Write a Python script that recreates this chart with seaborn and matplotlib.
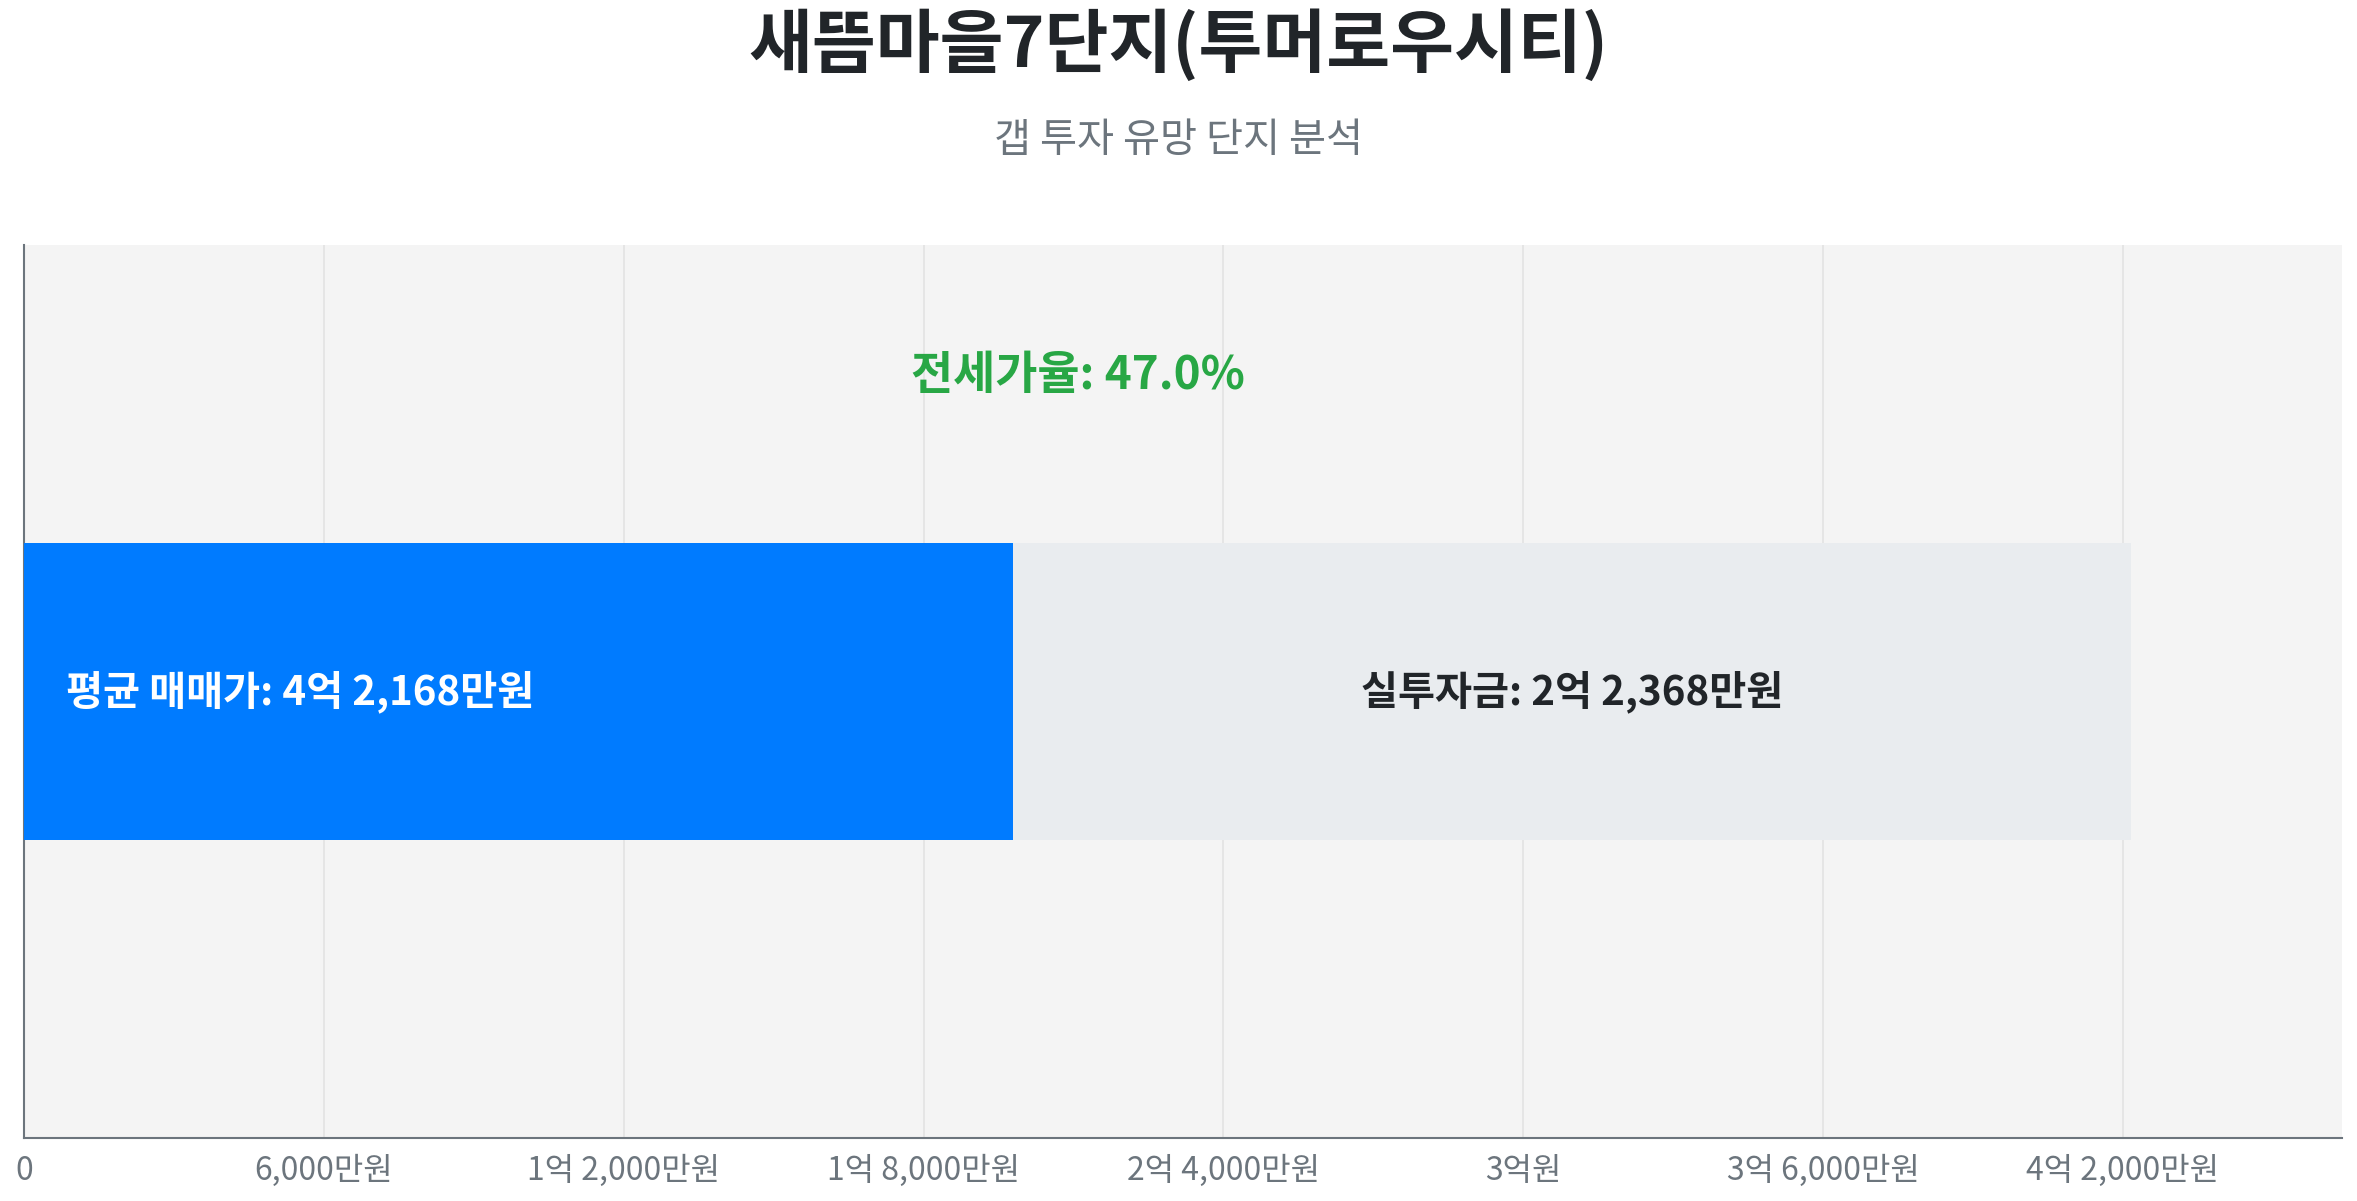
import matplotlib
matplotlib.use("Agg")
import matplotlib.pyplot as plt
import pandas as pd
import seaborn as sns
from matplotlib.ticker import FuncFormatter, MultipleLocator

# values in 만원
complex_name = "새뜸마을7단지(투머로우시티)"
subtitle = "갭 투자 유망 단지 분석"
sale_price = 42168
jeonse_price = 19800
gap_amount = sale_price - jeonse_price
jeonse_ratio = jeonse_price / sale_price * 100


def fmt_won(v, pos=None):
    v = int(round(v))
    if v == 0:
        return "0"
    eok, man = divmod(v, 10000)
    if eok and man:
        return f"{eok}억 {man:,}만원"
    if eok:
        return f"{eok}억원"
    return f"{man:,}만원"


sns.set_style("white")
plt.rcParams["font.family"] = ["Noto Sans CJK KR", "DejaVu Sans"]

df = pd.DataFrame({"단지": [complex_name], "매매가": [sale_price], "전세가": [jeonse_price]})

fig = plt.figure(figsize=(23.57, 12.01), dpi=100)
ax = fig.add_axes([0.0102, 0.0525, 0.9834, 0.7435])
ax.set_facecolor("#f4f4f4")

# total bar (gray) then jeonse part (blue) on top
sns.barplot(data=df, x="매매가", y="단지", orient="h", color="#e9ecef",
            width=1.0, saturation=1, linewidth=0, ax=ax, zorder=2)
sns.barplot(data=df, x="전세가", y="단지", orient="h", color="#007bff",
            width=1.0, saturation=1, linewidth=0, ax=ax, zorder=3)

ax.set_xlim(0, sale_price * 1.1)
ax.set_ylim(1.5, -1.5)

ax.xaxis.set_major_locator(MultipleLocator(6000))
ax.xaxis.set_major_formatter(FuncFormatter(fmt_won))
ax.set_yticks([])
ax.set_xlabel("")
ax.set_ylabel("")
ax.grid(axis="x", color="#e3e3e3", linewidth=1.2, zorder=0)
ax.set_axisbelow(True)
ax.tick_params(axis="x", labelsize=23, colors="#6c757d", length=7, width=1.2, pad=5)
for side in ["top", "right"]:
    ax.spines[side].set_visible(False)
for side in ["left", "bottom"]:
    ax.spines[side].set_color("#6c757d")
    ax.spines[side].set_linewidth(1.5)

ax.text(sale_price * 0.02, 0, f"평균 매매가: {fmt_won(sale_price)}",
        color="white", fontsize=29, fontweight="bold", ha="left", va="center", zorder=5)
ax.text((jeonse_price + sale_price) / 2, 0, f"실투자금: {fmt_won(gap_amount)}",
        color="#212529", fontsize=29, fontweight="bold", ha="center", va="center", zorder=5)
ax.text(sale_price / 2, -1.06, f"전세가율: {jeonse_ratio:.1f}%",
        color="#28a745", fontsize=33, fontweight="bold", ha="center", va="center", zorder=5)

fig.text(0.5, 0.962, complex_name, ha="center", va="center",
         fontsize=50, fontweight="bold", color="#212529")
fig.text(0.5, 0.883, subtitle, ha="center", va="center",
         fontsize=29, color="#6c757d")

fig.savefig("out.png", dpi=100, facecolor="white")
